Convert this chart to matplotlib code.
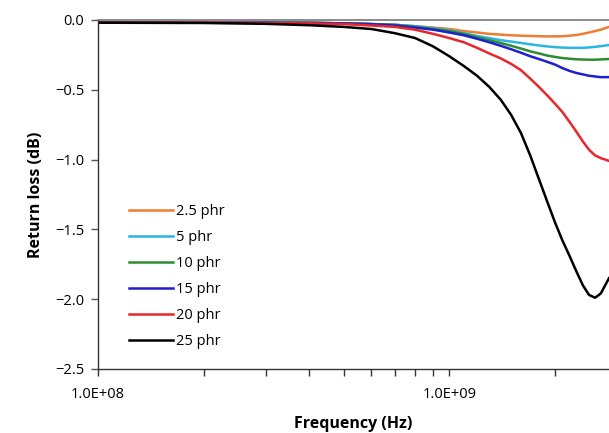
import matplotlib
matplotlib.use('Agg')
import matplotlib.pyplot as plt
from matplotlib.ticker import FixedLocator, FuncFormatter, NullFormatter

# frequency points (Hz)
freq = [1e8, 2e8, 3e8, 4e8, 5e8, 6e8, 7e8, 8e8, 9e8,
        1.0e9, 1.1e9, 1.2e9, 1.3e9, 1.4e9, 1.5e9, 1.6e9, 1.7e9, 1.8e9, 1.9e9,
        2.0e9, 2.1e9, 2.2e9, 2.3e9, 2.4e9, 2.5e9, 2.6e9, 2.7e9, 2.85e9]

labels = ["2.5 phr", "5 phr", "10 phr", "15 phr", "20 phr", "25 phr"]
colors = ["#ED7D31", "#2BB5DF", "#2E8B2E", "#1E1ED2", "#E8262B", "#000000"]

rl_2_5 = [-0.02, -0.02, -0.02, -0.02, -0.025, -0.03, -0.035, -0.045, -0.055,
          -0.065, -0.08, -0.09, -0.10, -0.105, -0.11, -0.113, -0.115, -0.117, -0.118,
          -0.118, -0.117, -0.113, -0.108, -0.10, -0.09, -0.08, -0.07, -0.05]
rl_5 = [-0.02, -0.02, -0.02, -0.02, -0.025, -0.03, -0.035, -0.045, -0.06,
        -0.075, -0.095, -0.115, -0.13, -0.145, -0.155, -0.165, -0.175, -0.183, -0.19,
        -0.195, -0.198, -0.20, -0.20, -0.20, -0.197, -0.193, -0.188, -0.18]
rl_10 = [-0.02, -0.02, -0.02, -0.02, -0.025, -0.03, -0.035, -0.05, -0.065,
         -0.08, -0.10, -0.125, -0.145, -0.165, -0.185, -0.205, -0.225, -0.24, -0.255,
         -0.265, -0.273, -0.278, -0.282, -0.284, -0.285, -0.285, -0.283, -0.28]
rl_15 = [-0.02, -0.02, -0.02, -0.022, -0.025, -0.03, -0.04, -0.055, -0.07,
         -0.09, -0.11, -0.135, -0.16, -0.185, -0.21, -0.235, -0.26, -0.28, -0.30,
         -0.32, -0.345, -0.365, -0.38, -0.39, -0.40, -0.405, -0.41, -0.41]
rl_20 = [-0.02, -0.02, -0.022, -0.025, -0.03, -0.04, -0.05, -0.07, -0.10,
         -0.13, -0.16, -0.20, -0.24, -0.275, -0.315, -0.36, -0.42, -0.48, -0.54,
         -0.60, -0.66, -0.73, -0.80, -0.87, -0.93, -0.97, -0.99, -1.01]
rl_25 = [-0.02, -0.022, -0.028, -0.038, -0.05, -0.065, -0.095, -0.13, -0.19,
         -0.26, -0.33, -0.40, -0.48, -0.57, -0.68, -0.81, -0.97, -1.14, -1.30,
         -1.45, -1.58, -1.69, -1.80, -1.90, -1.97, -1.99, -1.96, -1.85]

series = [rl_2_5, rl_5, rl_10, rl_15, rl_20, rl_25]

plt.rcParams['font.family'] = ['Open Sans', 'DejaVu Sans']

fig = plt.figure(figsize=(6.09, 4.33), dpi=100)
ax = fig.add_axes([0.161, 0.148, 0.839, 0.806])

for vals, lab, col in zip(series, labels, colors):
    ax.plot(freq, vals, color=col, lw=1.8, label=lab)

ax.set_xscale('log')
ax.set_xlim(1e8, 2.85e9)
ax.set_ylim(-2.5, 0.0)

ax.xaxis.set_major_locator(FixedLocator([1e8, 1e9]))
ax.xaxis.set_major_formatter(FuncFormatter(lambda v, p: "%.1E" % v))
ax.xaxis.set_minor_locator(FixedLocator([2e8, 3e8, 4e8, 5e8, 6e8, 7e8, 8e8, 9e8, 2e9]))
ax.xaxis.set_minor_formatter(NullFormatter())
ax.set_yticks([0.0, -0.5, -1.0, -1.5, -2.0, -2.5])
ax.yaxis.set_major_formatter(FuncFormatter(lambda v, p: ("%.1f" % v).replace('-', '\u2212')))

ax.tick_params(axis='x', which='both', direction='out', length=5, width=1,
               color='#333333', labelsize=10.5, pad=8)
ax.tick_params(axis='y', direction='out', length=5, width=1, color='#555555',
               labelsize=10.5, pad=5)

for s in ['left', 'bottom']:
    ax.spines[s].set_color('#333333')
    ax.spines[s].set_linewidth(1.0)
ax.spines['top'].set_color('#777777')
ax.spines['top'].set_linewidth(1.2)
ax.spines['right'].set_visible(False)

ax.set_xlabel("Frequency (Hz)", fontsize=11.5, fontweight='bold', labelpad=10)
ax.set_ylabel("Return loss (dB)", fontsize=11.5, fontweight='bold', labelpad=8)

ax.legend(loc='upper left', bbox_to_anchor=(0.035, 0.51), frameon=False,
          fontsize=10.5, handlelength=3.0, handletextpad=0.2, labelspacing=0.75)

fig.savefig("out.png", dpi=100)
